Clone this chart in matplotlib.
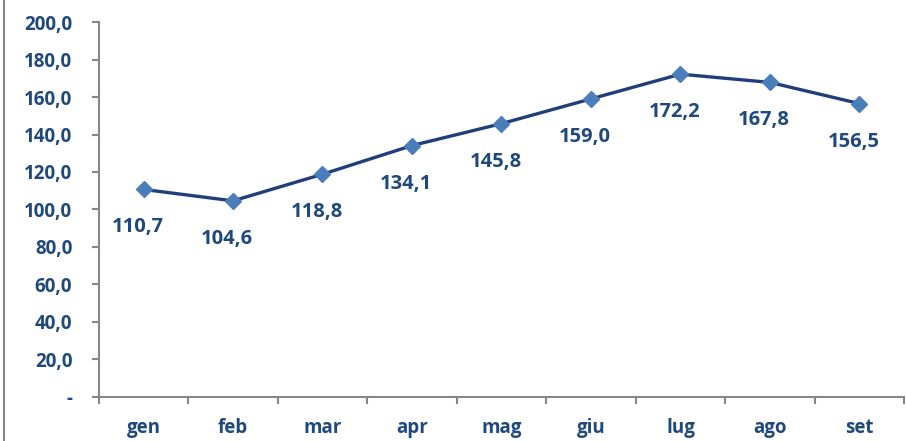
import matplotlib.pyplot as plt
from matplotlib.lines import Line2D

mesi = ["gen", "feb", "mar", "apr", "mag", "giu", "lug", "ago", "set"]
valori = [110.7, 104.6, 118.8, 134.1, 145.8, 159.0, 172.2, 167.8, 156.5]
y_ticks = [0, 20, 40, 60, 80, 100, 120, 140, 160, 180, 200]

blu_testo = "#1F497D"
blu_linea = "#203F78"
blu_marker = "#4A7EBB"
grigio = "#868686"

plt.rcParams['font.family'] = ['Open Sans', 'DejaVu Sans']

fig = plt.figure(figsize=(9.06, 4.41), dpi=100)
ax = fig.add_axes([0.109, 0.1, 0.889, 0.85])

x = list(range(len(mesi)))
ax.plot(x, valori, color=blu_linea, lw=2.4, zorder=2)
ax.plot(x, valori, ls="none", marker="D", ms=8, color=blu_marker, zorder=3)

for xi, v in zip(x, valori):
    lab = f"{v:.1f}".replace(".", ",")
    ax.annotate(lab, (xi, v), xytext=(-6, -38), textcoords="offset pixels",
                ha="center", va="center", fontsize=14.5, fontweight="bold",
                color=blu_testo)

ax.set_xlim(-0.5, len(mesi) - 0.5)
ax.set_ylim(0, 200)
ax.set_yticks(y_ticks)
ax.set_yticklabels(["-" if t == 0 else f"{t:.1f}".replace(".", ",") for t in y_ticks])
ax.set_xticks(x)
ax.set_xticklabels(mesi)
ax.set_xticks([i - 0.5 for i in range(len(mesi) + 1)], minor=True)
ax.tick_params(axis="x", which="major", length=0, pad=15)
ax.tick_params(axis="x", which="minor", length=5, width=1.5, color=grigio)
ax.tick_params(axis="y", length=5, width=1.5, color=grigio, pad=14)
for lbl in ax.get_xticklabels() + ax.get_yticklabels():
    lbl.set_color(blu_testo)
    lbl.set_fontweight("bold")
    lbl.set_fontsize(13.5)

for s in ["top", "right"]:
    ax.spines[s].set_visible(False)
for s in ["left", "bottom"]:
    ax.spines[s].set_color(grigio)
    ax.spines[s].set_linewidth(1.5)

# bordo del riquadro a sinistra
fig.add_artist(Line2D([0.004, 0.004], [0, 1], transform=fig.transFigure,
                      color=grigio, lw=1.5))

fig.savefig("out.png", dpi=100)
